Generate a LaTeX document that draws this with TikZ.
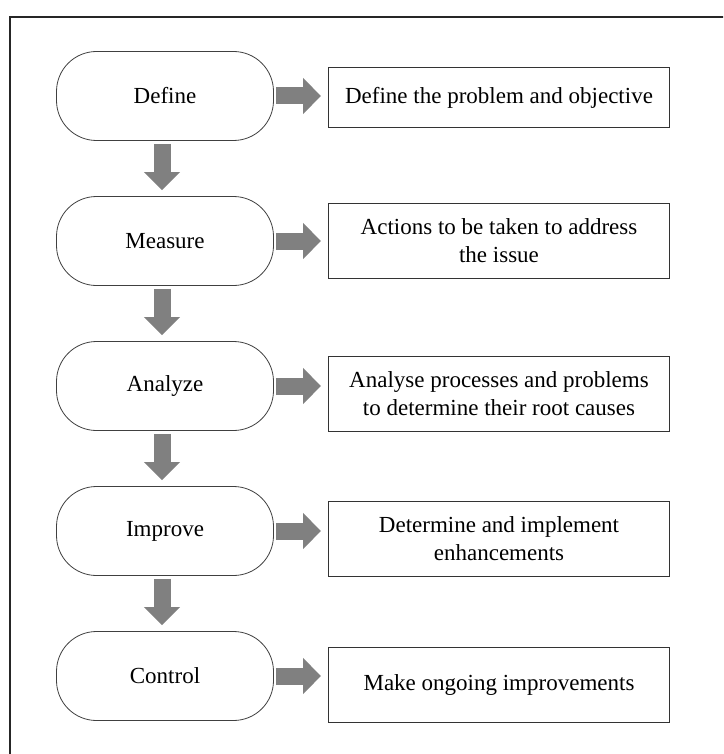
\documentclass[tikz,border=0pt]{standalone}
\usepackage{fontspec}
\setmainfont{Liberation Serif}
\usetikzlibrary{arrows.meta}

\begin{document}
\begin{tikzpicture}[x=1pt,y=-1pt]

			\tikzstyle{phase}=[fill=white,draw=black!75,line width=0.8pt,
				minimum width=217pt,minimum height=89pt,
				rounded corners=40pt,node distance=145pt,
				font=\fontsize{23}{28}\selectfont]
			\tikzstyle{action}=[fill=white,draw=black!80,line width=1pt,
				minimum width=341pt,minimum height=75pt,
				node distance=334pt,align=center,
				font=\fontsize{23}{28}\selectfont]
			\tikzstyle{flow}=[draw=black!50,line width=17pt,
				-{Triangle[width=35pt,length=18pt]}]

			\useasboundingbox (0,0) rectangle (723,754);
			\clip (0,0) rectangle (723,754);
			\fill[white] (0,0) rectangle (723,754);
			\draw[black!85,line width=1.8pt] (10,780) |- (760,17);

			\node[phase]	at (165,96)	(11)	{Define};
			\node[action,right of=11,yshift=-2pt,minimum height=60pt]	(12)	{Define the problem and objective};
			\node[phase,below of=11]	(21)	{Measure};
			\node[action,right of=21]	(22)	{Actions to be taken to address\\the issue};
			\node[phase,below of=21]	(31)	{Analyze};
			\node[action,right of=31,yshift=-8pt]	(32)	{Analyse processes and problems\\to determine their root causes};
			\node[phase,below of=31]	(41)	{Improve};
			\node[action,right of=41,yshift=-8pt]	(42)	{Determine and implement\\enhancements};
			\node[phase,below of=41]	(51)	{Control};
			\node[action,right of=51,yshift=-9pt]	(52)	{Make ongoing improvements};

			\foreach \r in {1,...,5}
				\draw[flow,shorten <=2pt,shorten >=7pt]
					(\r1.east) -- (\r1.east -| \r2.west);
			\foreach \r/\s in {1/2,2/3,3/4,4/5}
				\draw[flow,shorten <=3pt,shorten >=6pt]
					([xshift=-3pt]\r1.south) -- ([xshift=-3pt]\s1.north);

			\end{tikzpicture}
\end{document}
